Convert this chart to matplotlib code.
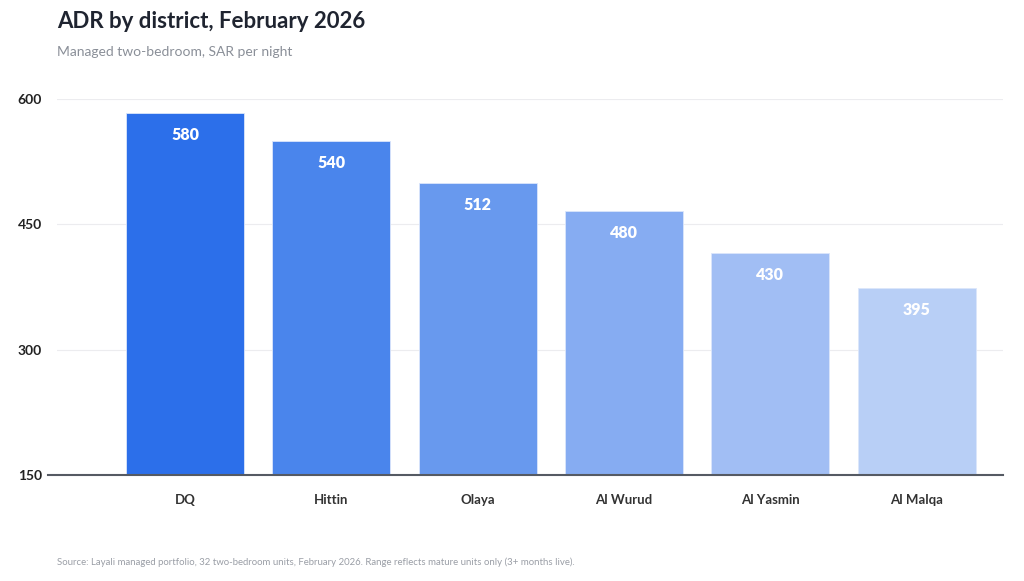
import matplotlib.pyplot as plt

# data
districts = ['DQ', 'Hittin', 'Olaya', 'Al Wurud', 'Al Yasmin', 'Al Malqa']
bar_heights = [583, 550, 500, 466, 416, 374]   # drawn bar tops
bar_labels = [580, 540, 512, 480, 430, 395]    # printed values
y_ticks = [150, 300, 450, 600]
bar_colors = ['#2c6fea', '#4a85ec', '#6899ee', '#86acf2', '#a1bef4', '#b8cff6']

plt.rcParams['font.family'] = ['Lato', 'DejaVu Sans']

fig = plt.figure(figsize=(10.24, 5.81), dpi=100)
ax = fig.add_axes([57 / 1024, 1 - 475 / 581, 946 / 1024, 376 / 581])

x = range(len(districts))
bars = ax.bar(x, [h - 150 for h in bar_heights], bottom=150, width=0.807,
              color=bar_colors, edgecolor='#dbe6fb', linewidth=0.6, zorder=3)

for b, lab in zip(bars, bar_labels):
    ax.annotate(str(lab), (b.get_x() + b.get_width() / 2, b.get_y() + b.get_height()),
                xytext=(0, -22), textcoords='offset pixels',
                ha='center', va='center', color='white', fontsize=11.5, fontweight='heavy',
                zorder=4)

ax.set_xlim(-0.875, 5.59)
ax.set_ylim(150, 600)
ax.set_yticks(y_ticks)
ax.set_yticklabels([str(t) for t in y_ticks])
ax.set_xticks(list(x))
ax.set_xticklabels(districts)

ax.grid(axis='y', color='#ececef', linewidth=0.8, zorder=0)
ax.tick_params(axis='both', length=0)
ax.tick_params(axis='y', pad=11, labelsize=10, labelcolor='#222222')
ax.tick_params(axis='x', pad=14, labelsize=9.5, labelcolor='#333333')
for t in ax.get_xticklabels() + ax.get_yticklabels():
    t.set_fontweight('bold')
for s in ax.spines.values():
    s.set_visible(False)
ax.axhline(150, xmin=-0.0095, xmax=1, color='#555a63', linewidth=1.5,
           clip_on=False, zorder=5)

fig.text(57 / 1024, 1 - 21 / 581, 'ADR by district, February 2026', fontsize=16,
         fontweight='bold', color='#1f2430', va='center')
fig.text(57 / 1024, 1 - 52 / 581, 'Managed two-bedroom, SAR per night', fontsize=10,
         color='#8a8f98', va='center')
fig.text(57 / 1024, 1 - 562 / 581,
         'Source: Layali managed portfolio, 32 two-bedroom units, February 2026. '
         'Range reflects mature units only (3+ months live).',
         fontsize=6.9, color='#9a9ea6', va='center')

fig.savefig('out.png', dpi=100)
